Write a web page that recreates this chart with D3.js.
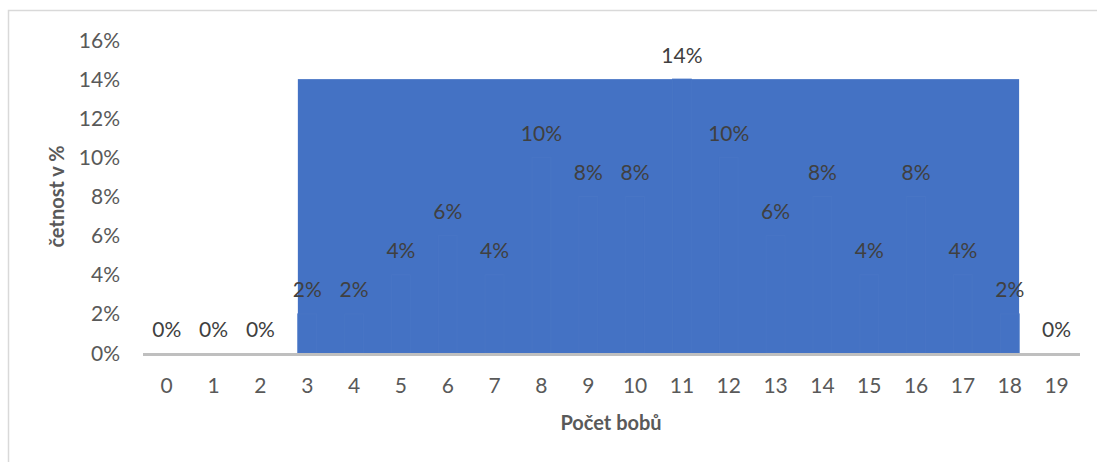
<!DOCTYPE html>
<html>
<head>
<meta charset="utf-8">
<script src="https://cdn.jsdelivr.net/npm/d3@7"></script>
<style>
  html, body { margin: 0; padding: 0; background: #fff; }
  svg { display: block; font-family: Lato, "Open Sans", sans-serif; }
</style>
</head>
<body>
<div id="chart"></div>
<script>
// Počet bobů vs. četnost
const categories = ["0","1","2","3","4","5","6","7","8","9","10","11","12","13","14","15","16","17","18","19"];
const values = [0,0,0,2,2,4,6,4,10,8,8,14,10,6,8,4,8,4,2,0];
const yTicks = [0,2,4,6,8,10,12,14,16];

const width = 1097, height = 462;
const barColor = "#4472c4";

const svg = d3.select("#chart").append("svg")
    .attr("width", width)
    .attr("height", height);

// chart frame (clipped on the right and bottom like the original)
svg.append("path")
    .attr("d", `M8.5,${height} V10.5 H${width}`)
    .attr("fill", "none")
    .attr("stroke", "#d9d9d9")
    .attr("stroke-width", 1.5);

const x = d3.scaleBand()
    .domain(categories)
    .range([143.3, 1080])
    .paddingInner(0.6)
    .paddingOuter(0.3);

const y = d3.scaleLinear()
    .domain([0, 16])
    .range([353, 40]);

// bars with gap 0 got merged into one block in the original, draw it from the data
const nonZero = categories.filter((c, i) => values[i] > 0);
const maxVal = d3.max(values);
svg.append("rect")
    .attr("x", x(nonZero[0]))
    .attr("y", y(maxVal))
    .attr("width", x(nonZero[nonZero.length - 1]) + x.bandwidth() - x(nonZero[0]))
    .attr("height", y(0) - y(maxVal))
    .attr("fill", barColor);

// the actual bars, barely visible
svg.append("g")
    .selectAll("rect")
    .data(values)
    .join("rect")
    .attr("x", (d, i) => x(categories[i]))
    .attr("y", d => y(d))
    .attr("width", x.bandwidth())
    .attr("height", d => y(0) - y(d))
    .attr("fill", barColor)
    .attr("stroke", "#4875c5")
    .attr("stroke-width", 1);

// x axis line
svg.append("line")
    .attr("x1", 143).attr("x2", 1080)
    .attr("y1", y(0) + 1.5).attr("y2", y(0) + 1.5)
    .attr("stroke", "#bfbfbf")
    .attr("stroke-width", 3);

const fs = "21px";

// y tick labels
svg.append("g")
    .selectAll("text")
    .data(yTicks)
    .join("text")
    .attr("x", 120)
    .attr("y", d => y(d))
    .attr("dy", "0.36em")
    .attr("text-anchor", "end")
    .attr("fill", "#595959")
    .attr("font-size", fs)
    .text(d => d + "%");

// x tick labels
svg.append("g")
    .selectAll("text")
    .data(categories)
    .join("text")
    .attr("x", d => x(d) + x.bandwidth() / 2)
    .attr("y", 385)
    .attr("dy", "0.36em")
    .attr("text-anchor", "middle")
    .attr("fill", "#595959")
    .attr("font-size", fs)
    .text(d => d);

// data labels
svg.append("g")
    .selectAll("text")
    .data(values)
    .join("text")
    .attr("x", (d, i) => x(categories[i]) + x.bandwidth() / 2)
    .attr("y", d => y(d) - 24)
    .attr("dy", "0.36em")
    .attr("text-anchor", "middle")
    .attr("fill", "#404040")
    .attr("font-size", fs)
    .text(d => d + "%");

// axis titles
svg.append("text")
    .attr("transform", `translate(57,${(y(0) + y(16)) / 2}) rotate(-90)`)
    .attr("dy", "0.36em")
    .attr("text-anchor", "middle")
    .attr("fill", "#595959")
    .attr("font-size", "20px")
    .attr("font-weight", "bold")
    .text("četnost v %");

svg.append("text")
    .attr("x", 611)
    .attr("y", 423)
    .attr("dy", "0.36em")
    .attr("text-anchor", "middle")
    .attr("fill", "#595959")
    .attr("font-size", "20px")
    .attr("font-weight", "bold")
    .text("Počet bobů");
</script>
</body>
</html>
